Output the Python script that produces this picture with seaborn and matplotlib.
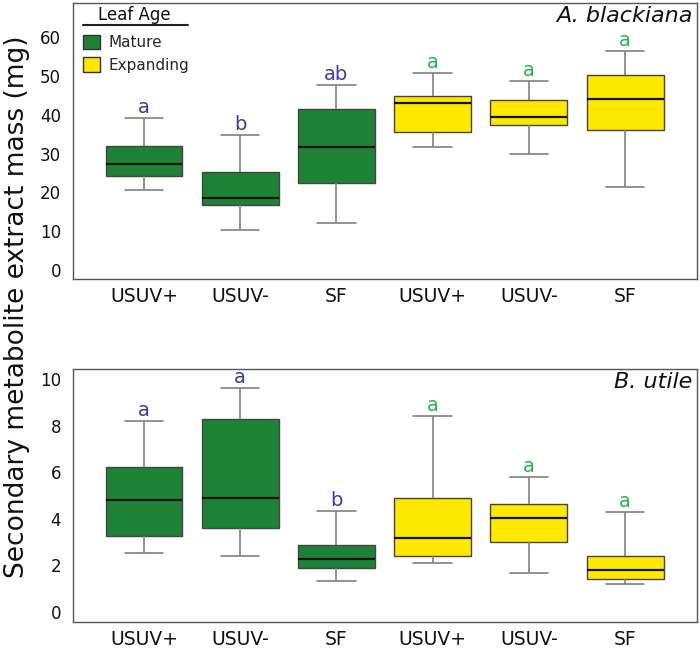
import pandas as pd
import matplotlib.pyplot as plt
import seaborn as sns
from matplotlib.patches import Patch

# Five-number summaries: [low whisker, Q1, median, Q3, high whisker]
treatments = ["USUV+", "USUV-", "SF"]
ages = ["Mature", "Expanding"]

# A. blackiana (top panel)
a_mature = [
    [20.5, 24.3, 27.3, 31.9, 39.3],
    [10.4, 16.7, 18.6, 25.2, 34.7],
    [12.1, 22.4, 31.6, 41.6, 47.6],
]
a_expanding = [
    [31.7, 35.5, 43.0, 45.0, 50.7],
    [30.0, 37.3, 39.5, 43.8, 48.7],
    [21.5, 36.1, 44.1, 50.3, 56.5],
]
a_letters = ["a", "b", "ab", "a", "a", "a"]

# B. utile (bottom panel)
b_mature = [
    [2.52, 3.26, 4.81, 6.21, 8.21],
    [2.40, 3.61, 4.91, 8.27, 9.61],
    [1.34, 1.90, 2.26, 2.90, 4.35],
]
b_expanding = [
    [2.10, 2.40, 3.20, 4.91, 8.41],
    [1.66, 3.00, 4.06, 4.66, 5.82],
    [1.20, 1.40, 1.82, 2.40, 4.31],
]
b_letters = ["a", "a", "b", "a", "a", "a"]

green = "#1e8236"
yellow = "#ffe800"
blue_txt = "#3b3ea0"
green_txt = "#2bb24c"


def to_frame(mature, expanding):
    rows = []
    for age, groups in zip(ages, [mature, expanding]):
        for t, vals in zip(treatments, groups):
            for v in vals:
                rows.append({"slot": f"{age}|{t}", "age": age, "value": v})
    return pd.DataFrame(rows)


def draw_panel(ax, mature, expanding, letters, species, yticks, ylim, offset):
    df = to_frame(mature, expanding)
    order = [f"{a}|{t}" for a in ages for t in treatments]
    sns.boxplot(data=df, x="slot", y="value", hue="age", order=order,
                hue_order=ages, palette=[green, yellow], dodge=False,
                saturation=1, whis=(0, 100), width=0.8, legend=False, ax=ax,
                boxprops=dict(edgecolor="#444444", linewidth=1.0),
                whiskerprops=dict(color="#808080", linewidth=1.2),
                capprops=dict(color="#808080", linewidth=1.2),
                medianprops=dict(color="#111111", linewidth=1.6))
    # significance letters just above the upper whiskers
    tops = [g[-1] for g in mature + expanding]
    for i, (top, lab) in enumerate(zip(tops, letters)):
        col = blue_txt if i < 3 else green_txt
        ax.text(i, top + offset, lab, ha="center", va="baseline",
                color=col, fontsize=14)
    ax.set_xticks(range(6))
    ax.set_xticklabels(treatments * 2, fontsize=13.5, color="#111111")
    ax.set_yticks(yticks)
    ax.tick_params(axis="y", labelsize=12, length=5, color="#555555",
                   labelcolor="#111111")
    ax.tick_params(axis="x", length=0, pad=6)
    ax.set_xlim(-0.74, 5.75)
    ax.set_ylim(*ylim)
    ax.set_xlabel("")
    ax.set_ylabel("")
    for s in ax.spines.values():
        s.set_visible(True)
        s.set_color("#555555")
        s.set_linewidth(1.0)
    ax.text(0.993, 0.99, species, transform=ax.transAxes, ha="right",
            va="top", fontsize=16, style="italic", color="#111111")


sns.set_theme(style="white")
plt.rcParams["font.family"] = ["DejaVu Sans"]

fig = plt.figure(figsize=(7, 6.5), dpi=100)
ax1 = fig.add_axes([0.104, 0.571, 0.892, 0.424])
ax2 = fig.add_axes([0.104, 0.043, 0.892, 0.389])

draw_panel(ax1, a_mature, a_expanding, a_letters, "A. blackiana",
           range(0, 61, 10), (-2.3, 68.8), 1.3)
draw_panel(ax2, b_mature, b_expanding, b_letters, "B. utile",
           range(0, 11, 2), (-0.43, 10.43), 0.21)

# legend: title drawn separately with an underline, as in the original
handles = [Patch(facecolor=green, edgecolor="#333333"),
           Patch(facecolor=yellow, edgecolor="#333333")]
ax1.legend(handles, ages, loc="upper left", bbox_to_anchor=(0.016, 0.886),
           borderaxespad=0, borderpad=0, frameon=False, fontsize=11,
           handlelength=1.1, handleheight=1.1, labelspacing=0.45,
           handletextpad=0.6)
ax1.text(0.098, 0.957, "Leaf Age", transform=ax1.transAxes, ha="center",
         va="center", fontsize=12, color="#111111")
ax1.plot([0.016, 0.184], [0.922, 0.922], transform=ax1.transAxes,
         color="#222222", lw=1.5, clip_on=False)

fig.text(0.024, 0.528, "Secondary metabolite extract mass (mg)", rotation=90,
         ha="center", va="center", fontsize=19, color="#111111")

fig.savefig("out.png", dpi=100)
